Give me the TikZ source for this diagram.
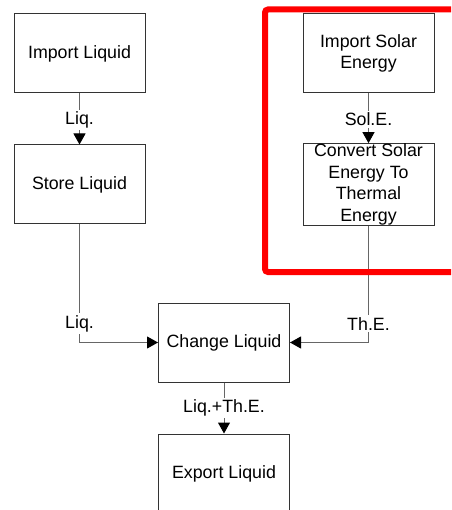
\documentclass[tikz,border=0pt]{standalone}
\usepackage{fontspec}
\setmainfont{Liberation Sans}
\usetikzlibrary{arrows.meta}
\definecolor{boxline}{HTML}{333333}
\definecolor{connline}{HTML}{666666}
\tikzset{
  fbox/.style={draw=boxline, line width=1pt, minimum width=131pt, minimum height=79pt,
    inner sep=0pt, align=center, font=\fontsize{17.8}{21.7}\selectfont, text=black},
  conn/.style={draw=connline, line width=1pt, -{Triangle[length=11pt,width=12pt,fill=black,color=black]}},
  lbl/.style={fill=white, inner sep=2pt, font=\fontsize{17.8}{21.7}\selectfont, text=black},
  frame/.style={draw=red, line width=6pt, rounded corners=3pt}
}
\begin{document}
\begin{tikzpicture}[x=1pt,y=-1pt]
\useasboundingbox (0,0) rectangle (451,510);
\clip (0,0) rectangle (451,510);
\node[fbox] (imp) at (79.5,53.5) {Import Liquid};
\node[fbox] (store) at (79.5,184.5) {Store Liquid};
\node[fbox] (sol) at (368.5,53.5) {Import Solar\\Energy};
\node[fbox] (conv) at (368.5,184.5) {Convert Solar\\Energy To\\Thermal\\Energy};
\node[fbox] (chg) at (224,342.5) {Change Liquid};
\node[fbox] (exp) at (224,473.5) {Export Liquid};
\draw[conn] (imp) -- node[lbl, pos=0.52] {Liq.} (store);
\draw[conn] (sol) -- node[lbl, pos=0.52] {Sol.E.} (conv);
\draw[conn] (store.south) |- node[lbl, pos=0.42] {Liq.} (chg.west);
\draw[conn] (conv.south) |- node[lbl, pos=0.42] {Th.E.} (chg.east);
\draw[conn] (chg) -- node[lbl, pos=0.5] {Liq.+Th.E.} (exp);
\draw[frame] (480,9.5) -| (265,272) -- (480,272);
\end{tikzpicture}
\end{document}
